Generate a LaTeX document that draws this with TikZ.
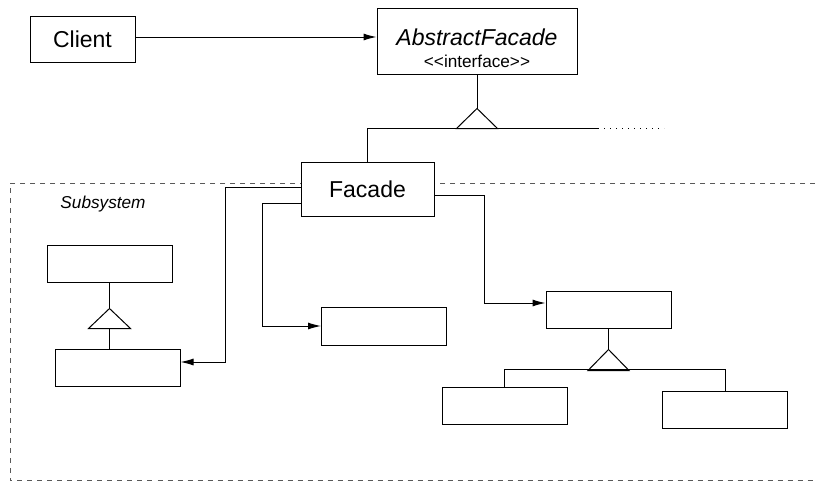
\documentclass[tikz,border=0pt]{standalone}
\usepackage{fontspec}
\setmainfont{Liberation Sans}
\usetikzlibrary{arrows.meta,positioning}
\begin{document}
\begin{tikzpicture}[x=0.5pt,y=-0.5pt,line width=0.5pt,font=\fontsize{11.5}{13}\selectfont]
\tikzstyle{cls} = [rectangle, draw, fill=white, minimum width=62.5pt, minimum height=18.5pt, inner sep=0pt]
\tikzstyle{arrow} = [-{Latex[length=6.5pt,width=3.5pt]}]
\tikzstyle{boundary} = [draw=black!65, dash pattern=on 2.5pt off 2.5pt]
\tikzstyle{small} = [font=\fontsize{8.6}{11}\selectfont]

\useasboundingbox (0,0) rectangle (815,482);

% subsystem boundary
\draw [boundary] (815,183) -- (10,183) -- (10,480.5) -- (815,480.5);
\node (subsystem) [small, anchor=base west, inner sep=0pt] at (60,208) {\itshape Subsystem};

\node (client) [cls, minimum width=52.5pt, minimum height=23pt] at (82.5,39) {Client\hspace{5pt}};
\node (abstract) [cls, minimum width=100pt, minimum height=33pt,
  label={[small, align=center, yshift=-3.5pt]center:{\fontsize{11.5}{11}\selectfont\itshape AbstractFacade}\\<{}<interface>{}>}] at (477,41) {};
\node (facade) [cls, minimum width=66.5pt, minimum height=27pt] at (367.5,189) {Facade};

\node (leftBase) [cls] at (109.5,263.5) {};
\node (leftSub) [cls] at (117.5,367.5) {};
\node (mid) [cls, minimum height=19pt] at (384,326) {};
\node (rightTop) [cls] at (608.5,309.5) {};
\node (rightA) [cls] at (504.5,405.5) {};
\node (rightB) [cls] at (725,409.5) {};

\draw [arrow] ([yshift=1pt]client.east) -- ([yshift=1pt]client.east -| abstract.west);

% AbstractFacade and its subclasses
\draw (abstract.south) -- ++(0,34);
\draw (abstract.south) ++(0,34) -- ++(-20.5,20) -- ++(41,0) -- cycle;
\coordinate (afmore) at (598,128);
\draw (facade.north) |- (afmore);
\draw [dash pattern=on 0.5pt off 2.5pt] (afmore) -- ++(66,0);

\draw [arrow] ([yshift=1pt]facade.west) -- ++(-75,0) |- ([yshift=2.75pt]leftSub.east);
\draw [arrow] ([yshift=-7pt]facade.west) -- ++(-38,0) |- (mid.west);
\draw [arrow] ([yshift=-3pt]facade.east) -- ++(50,0) |- ([yshift=3.25pt]rightTop.west);

\draw (leftBase.south) -- ++(0,26);
\draw (leftBase.south) ++(0,26) -- ++(-21,20) -- ++(42,0) -- cycle;
\draw (leftBase.south) ++(0,46) -- (leftSub.north -| leftBase.south);

\draw (rightTop.south) -- ++(0,21);
\draw (rightTop.south) ++(0,21) -- ++(-20.5,21) -- ++(41,0) -- cycle;
\draw (rightA.north) -- ++(0,-17) -| (rightB.north);
\end{tikzpicture}
\end{document}
